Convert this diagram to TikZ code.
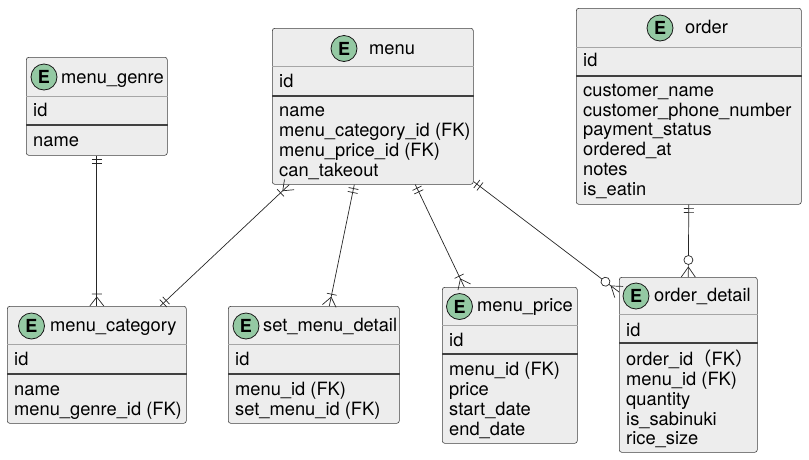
\documentclass[tikz,border=0pt]{standalone}
\usepackage{fontspec}
\setmainfont{TeX Gyre Heros}
\newfontfamily\cjkfont{Noto Sans CJK JP}
\usetikzlibrary{decorations.markings}
\definecolor{ebadge}{HTML}{94C9A3}
\tikzset{
      entity/.style={
          rectangle,
          rounded corners=2.5pt,
          draw=black!75,
          fill=black!7,
          line width=0.6pt,
          anchor=north west,
          inner sep=0pt
      },
      badge/.style={
          circle,
          draw=black!90,
          fill=ebadge,
          line width=0.8pt,
          minimum size=26pt,
          inner sep=0pt,
          font=\bfseries\fontsize{18}{18}\selectfont
      },
      txt/.style={anchor=base west, inner sep=0pt, font=\fontsize{18.3}{20}\selectfont},
      hsep/.style={draw=black!35, line width=0.8pt},
      ksep/.style={draw=black!75, line width=1.2pt},
      rel/.style={draw=black!85, line width=0.7pt},
      onestart/.style={postaction={decorate, decoration={markings,
          mark=at position 4pt with {\draw[rel] (0,-5pt) -- (0,5pt);},
          mark=at position 8pt with {\draw[rel] (0,-5pt) -- (0,5pt);}}}},
      manyend/.style={postaction={decorate, decoration={markings,
          mark=at position 1 with {\draw[rel] (-9pt,0) -- (0,7pt) (-9pt,0) -- (0,-7pt) (-12pt,-5pt) -- (-12pt,5pt);}}}},
      zmanyend/.style={postaction={decorate, decoration={markings,
          mark=at position 1 with {\draw[rel] (-10pt,0) -- (0,7pt) (-10pt,0) -- (0,-7pt);
                                   \draw[rel, fill=white] (-17pt,0) circle (4.5pt);}}}}
  }

\begin{document}
\begin{tikzpicture}[x=1pt, y=-1pt]
    \useasboundingbox (0,0) rectangle (809,459);

    % menu_genre
    \node [entity, minimum width=141pt, minimum height=98pt] (genre) at (26,57) {};
    \draw[hsep] (genre.west |- 0,96) -- (genre.east |- 0,96);
    \draw[ksep] (genre.west |- 0,125) -- (genre.east |- 0,125);
    \node [badge] (genre-e) at (44,77) {E};
    \node [txt] (genre-t) at (61,83) {menu\_genre};
    \node [txt] (genre-id) at (33,116.7) {id};
    \node [txt] (genre-name) at (33,146.7) {name};

    % menu
    \node [entity, minimum width=201pt, minimum height=156pt] (menu) at (272,28) {};
    \draw[hsep] (menu.west |- 0,66) -- (menu.east |- 0,66);
    \draw[ksep] (menu.west |- 0,96) -- (menu.east |- 0,96);
    \node [badge] (menu-e) at (344,48.5) {E};
    \node [txt] (menu-t) at (369,54) {menu};
    \node [txt] (menu-id) at (279,87.3) {id};
    \node [txt] (menu-name) at (279,116.7) {name};
    \node [txt] (menu-cat) at (279,136.7) {menu\_category\_id (FK)};
    \node [txt] (menu-price) at (279,156.7) {menu\_price\_id (FK)};
    \node [txt] (menu-take) at (279,176.7) {can\_takeout};

    % order
    \node [entity, minimum width=225pt, minimum height=196pt] (order) at (576,8) {};
    \draw[hsep] (order.west |- 0,47) -- (order.east |- 0,47);
    \draw[ksep] (order.west |- 0,76) -- (order.east |- 0,76);
    \node [badge] (order-e) at (660,28) {E};
    \node [txt] (order-t) at (685,33.3) {order};
    \node [txt] (order-id) at (583,66.7) {id};
    \node [txt] (order-cname) at (583,96.5) {customer\_name};
    \node [txt] (order-phone) at (583,116.2) {customer\_phone\_number};
    \node [txt] (order-pay) at (583,135.9) {payment\_status};
    \node [txt] (order-at) at (583,155.6) {ordered\_at};
    \node [txt] (order-notes) at (583,175.3) {notes};
    \node [txt] (order-eatin) at (583,195) {is\_eatin};

    % menu_category
    \node [entity, minimum width=179pt, minimum height=117pt] (cat) at (7,306) {};
    \draw[hsep] (cat.west |- 0,344) -- (cat.east |- 0,344);
    \draw[ksep] (cat.west |- 0,374) -- (cat.east |- 0,374);
    \node [badge] (cat-e) at (31.5,326) {E};
    \node [txt] (cat-t) at (50,331.7) {menu\_category};
    \node [txt] (cat-id) at (14,365) {id};
    \node [txt] (cat-name) at (14,395) {name};
    \node [txt] (cat-genre) at (14,415) {menu\_genre\_id (FK)};

    % set_menu_detail
    \node [entity, minimum width=171pt, minimum height=117pt] (set) at (228,306) {};
    \draw[hsep] (set.west |- 0,344) -- (set.east |- 0,344);
    \draw[ksep] (set.west |- 0,374) -- (set.east |- 0,374);
    \node [badge] (set-e) at (246,326) {E};
    \node [txt] (set-t) at (263,331.7) {set\_menu\_detail};
    \node [txt] (set-id) at (235,365) {id};
    \node [txt] (set-menu) at (235,395) {menu\_id (FK)};
    \node [txt] (set-set) at (235,415) {set\_menu\_id (FK)};

    % menu_price
    \node [entity, minimum width=135pt, minimum height=156pt] (price) at (442,287) {};
    \draw[hsep] (price.west |- 0,325) -- (price.east |- 0,325);
    \draw[ksep] (price.west |- 0,354) -- (price.east |- 0,354);
    \node [badge] (price-e) at (459.5,306.5) {E};
    \node [txt] (price-t) at (477,311.7) {menu\_price};
    \node [txt] (price-id) at (449,346) {id};
    \node [txt] (price-menu) at (449,375) {menu\_id (FK)};
    \node [txt] (price-price) at (449,395) {price};
    \node [txt] (price-start) at (449,415) {start\_date};
    \node [txt] (price-end) at (449,435) {end\_date};

    % order_detail
    \node [entity, minimum width=138pt, minimum height=175pt] (od) at (619,277) {};
    \draw[hsep] (od.west |- 0,314) -- (od.east |- 0,314);
    \draw[ksep] (od.west |- 0,343) -- (od.east |- 0,343);
    \node [badge] (od-e) at (636,296) {E};
    \node [txt] (od-t) at (654,301.7) {order\_detail};
    \node [txt] (od-id) at (626,336) {id};
    \node [txt] (od-order) at (626,365) {order\_id{\cjkfont （}FK{\cjkfont ）}};
    \node [txt] (od-menu) at (626,385) {menu\_id (FK)};
    \node [txt] (od-qty) at (626,405) {quantity};
    \node [txt] (od-sabi) at (626,425) {is\_sabinuki};
    \node [txt] (od-rice) at (626,444.5) {rice\_size};

    %%
    \draw[rel, onestart, manyend] (genre.south) -- (cat.north);
    \draw[rel, onestart, manyend] ([xshift=63.5pt]cat.north) -- ([xshift=-83.5pt]menu.south);
    \draw[rel, onestart, manyend] ([xshift=-18.5pt]menu.south) -- ([xshift=15.5pt]set.north);
    \draw[rel, onestart, manyend] ([xshift=42.5pt]menu.south) -- ([xshift=-45.5pt]price.north);
    \draw[rel, onestart, zmanyend] ([yshift=3pt]menu.south east) -- ([yshift=-15pt]od.north west);
    \draw[rel, onestart, zmanyend] (order.south) -- (od.north);
    %%
\end{tikzpicture}
\end{document}
